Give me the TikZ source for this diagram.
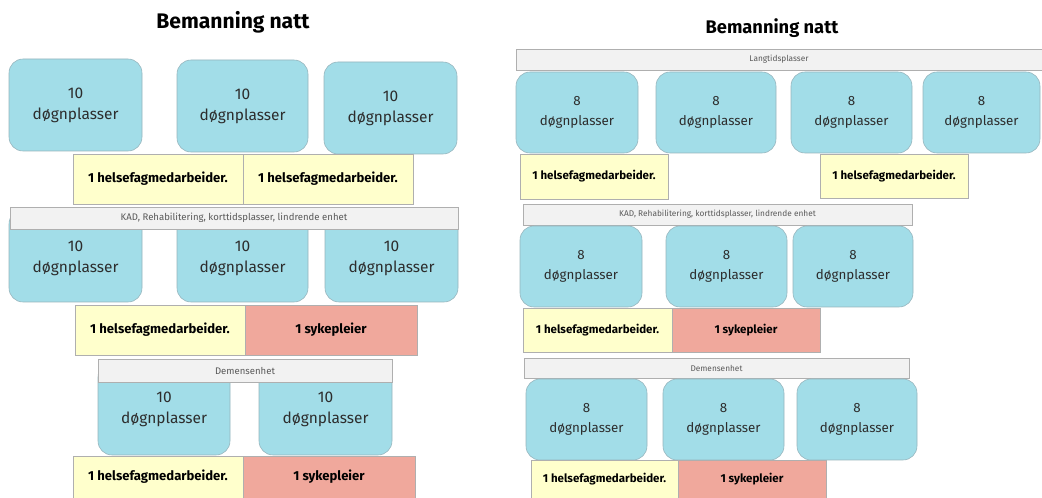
\documentclass[tikz,border=0pt]{standalone}
\usepackage{fontspec}
\setmainfont{Fira Sans}
\usetikzlibrary{fit}
\usetikzlibrary{positioning}

\definecolor{plassblue}{RGB}{162,221,232}
\definecolor{plassline}{RGB}{150,180,188}
\definecolor{hfyellow}{RGB}{255,255,204}
\definecolor{sykred}{RGB}{240,168,156}
\definecolor{bandgray}{RGB}{242,242,242}
\definecolor{boxline}{RGB}{175,175,175}
\definecolor{textgray}{RGB}{45,45,45}

% felt: stil, navn, hjørne, hjørne, tekst
\newcommand{\felt}[5]{%
    \node[#1, fit={#3 #4}] (#2) {};
    \node[#1-txt] at (#2.center) {#5};}

\begin{document}
\begin{tikzpicture}[x=0.025cm, y=-0.025cm,
    plass/.style={draw=plassline, fill=plassblue, rounded corners=0.35cm, inner sep=0pt},
    plass-txt/.style={align=center, text=textgray, font=\fontsize{11}{15}\selectfont},
    plassr/.style={plass},
    plassr-txt/.style={plass-txt, font=\fontsize{9.5}{14.5}\selectfont},
    hf/.style={draw=boxline, fill=hfyellow, inner sep=0pt},
    hf-txt/.style={font=\fontsize{9.3}{11}\selectfont\bfseries},
    hfr/.style={hf},
    hfr-txt/.style={font=\fontsize{8.2}{10}\selectfont\bfseries},
    syk/.style={hf, fill=sykred},
    syk-txt/.style={hf-txt},
    sykr/.style={syk},
    sykr-txt/.style={hfr-txt},
    band/.style={draw=boxline, fill=bandgray, inner sep=0pt},
    band-txt/.style={text=black!65, font=\fontsize{6.8}{8}\selectfont},
    bandr/.style={band},
    bandr-txt/.style={band-txt, font=\fontsize{5.9}{7}\selectfont},
    title/.style={font=\fontsize{15}{18}\selectfont\bfseries}]
    \useasboundingbox (0,0) rectangle (1042,498);

    % Left side
    \node[title] (ltitle) at (233,22) {Bemanning natt};

    % rad 1
    \felt{plass}{l1a}{(9,59)}{(142,151)}{10\\døgnplasser}
    \felt{plass}{l1b}{(177,60)}{(308,152)}{10\\døgnplasser}
    \felt{plass}{l1c}{(324,62)}{(457,154)}{10\\døgnplasser}
    \felt{hf}{l1hf}{(73,154)}{(243,204)}{1 helsefagmedarbeider.}
    \felt{hf}{l1hf2}{(243,154)}{(413,204)}{1 helsefagmedarbeider.}

    % KAD (band ligger over boksene)
    \felt{plass}{l2a}{(9,210)}{(142,302)}{}
    \felt{plass}{l2b}{(177,210)}{(308,302)}{}
    \felt{plass}{l2c}{(325,210)}{(458,302)}{}
    \felt{band}{l2band}{(10,207)}{(458,229)}{KAD, Rehabilitering, korttidsplasser, lindrende enhet}
    \node[plass-txt] at ([yshift=-0.05cm]l2a.center) {10\\døgnplasser};
    \node[plass-txt] at ([yshift=-0.05cm]l2b.center) {10\\døgnplasser};
    \node[plass-txt] at ([yshift=-0.05cm]l2c.center) {10\\døgnplasser};
    \felt{hf}{l2hf}{(75,305)}{(245,355)}{1 helsefagmedarbeider.}
    \felt{syk}{l2syk}{(245,305)}{(417,355)}{1 sykepleier}

    % Demens
    \felt{plass}{l3a}{(98,363)}{(230,455)}{}
    \felt{plass}{l3b}{(259,363)}{(392,455)}{}
    \felt{band}{l3band}{(98,359)}{(392,382)}{Demensenhet}
    \node[plass-txt] at (l3a.center) {10\\døgnplasser};
    \node[plass-txt] at (l3b.center) {10\\døgnplasser};
    \felt{hf}{l3hf}{(73,456)}{(243,498)}{1 helsefagmedarbeider.}
    \felt{syk}{l3syk}{(243,456)}{(415,498)}{1 sykepleier}

    % Right side
    \node[title, font=\fontsize{13}{16}\selectfont\bfseries] (rtitle) at (772,28) {Bemanning natt};

    % Langtid
    \felt{bandr}{r1band}{(516,49)}{(1042,70)}{Langtidsplasser}
    \felt{plassr}{r1a}{(516,72)}{(638,153)}{8\\døgnplasser}
    \felt{plassr}{r1b}{(656,72)}{(776,153)}{8\\døgnplasser}
    \felt{plassr}{r1c}{(791,72)}{(912,153)}{8\\døgnplasser}
    \felt{plassr}{r1d}{(923,72)}{(1040,153)}{8\\døgnplasser}
    \felt{hfr}{r1hf}{(520,154)}{(668,199)}{1 helsefagmedarbeider.}
    \felt{hfr}{r1hf2}{(820,154)}{(968,198)}{1 helsefagmedarbeider.}

    % KAD
    \felt{bandr}{r2band}{(523,204)}{(912,225)}{KAD, Rehabilitering, korttidsplasser, lindrende enhet}
    \felt{plassr}{r2a}{(520,226)}{(642,307)}{8\\døgnplasser}
    \felt{plassr}{r2b}{(666,226)}{(787,307)}{8\\døgnplasser}
    \felt{plassr}{r2c}{(793,226)}{(913,307)}{8\\døgnplasser}
    \felt{hfr}{r2hf}{(523,308)}{(672,352)}{1 helsefagmedarbeider.}
    \felt{sykr}{r2syk}{(672,308)}{(820,352)}{1 sykepleier}

    % Demens
    \felt{bandr}{r3band}{(524,358)}{(909,378)}{Demensenhet}
    \felt{plassr}{r3a}{(526,379)}{(647,460)}{8\\døgnplasser}
    \felt{plassr}{r3b}{(663,379)}{(784,460)}{8\\døgnplasser}
    \felt{plassr}{r3c}{(797,379)}{(917,460)}{8\\døgnplasser}
    \felt{hfr}{r3hf}{(531,460)}{(678,498)}{1 helsefagmedarbeider.}
    \felt{sykr}{r3syk}{(678,460)}{(826,498)}{1 sykepleier}
\end{tikzpicture}
\end{document}
